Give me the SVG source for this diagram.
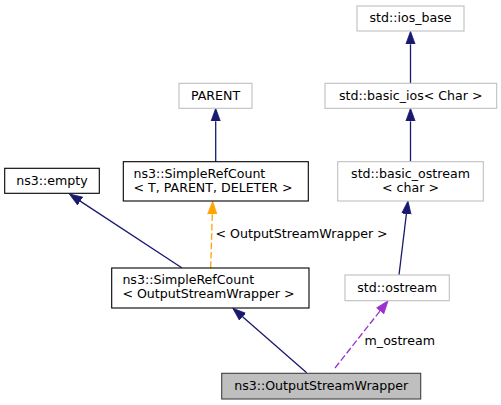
<svg xmlns="http://www.w3.org/2000/svg" width="501" height="405" viewBox="0 0 501 405">
<style>
text{font-family:"DejaVu Sans","Liberation Sans",sans-serif;font-size:12.6px;fill:#000}
.c{text-anchor:middle}
.doc{fill:#fff;stroke:#000;stroke-width:1.1}
.und{fill:#fff;stroke:#bfbfbf;stroke-width:1.1}
.cur{fill:#bfbfbf;stroke:#404040;stroke-width:1.1}
.e{fill:none;stroke:#191970;stroke-width:1.3}
.o{fill:none;stroke:#ffa500;stroke-width:1.3;stroke-dasharray:6.7,2.7}
.p{fill:none;stroke:#9a32cd;stroke-width:1.3;stroke-dasharray:6.7,2.7}
</style>
<defs>
<marker id="ab" markerUnits="userSpaceOnUse" markerWidth="14" markerHeight="12" refX="0" refY="5" orient="auto" viewBox="0 0 14 10"><path d="M0,0.3 L13,5 L0,9.7 Z" fill="#191970" stroke="#191970" stroke-width="0.8"/></marker>
<marker id="ao" markerUnits="userSpaceOnUse" markerWidth="14" markerHeight="12" refX="0" refY="5" orient="auto" viewBox="0 0 14 10"><path d="M0,0.3 L13,5 L0,9.7 Z" fill="#ffa500" stroke="#ffa500" stroke-width="0.8"/></marker>
<marker id="ap" markerUnits="userSpaceOnUse" markerWidth="14" markerHeight="12" refX="0" refY="5" orient="auto" viewBox="0 0 14 10"><path d="M0,0.3 L13,5 L0,9.7 Z" fill="#9a32cd" stroke="#9a32cd" stroke-width="0.8"/></marker>
</defs>
<g id="connectors">
<path class="e" d="M410.5,83 L410.5,44.3" marker-end="url(#ab)"/>
<path class="e" d="M410.5,161.7 L410.5,121.3" marker-end="url(#ab)"/>
<path class="e" d="M215.7,161.7 L215.7,121.3" marker-end="url(#ab)"/>
<path class="e" d="M181.7,267.7 L80.2,201.1" marker-end="url(#ab)"/>
<path class="o" d="M210.7,268 L212.3,214.3" marker-end="url(#ao)"/>
<text x="215.5" y="237.5">&lt; OutputStreamWrapper &gt;</text>
<path class="e" d="M399,275 L406.4,213.9" marker-end="url(#ab)"/>
<path class="e" d="M306.7,372.7 L242.6,316.8" marker-end="url(#ab)"/>
<path class="p" d="M335,368 L380,311" marker-end="url(#ap)"/>
<text x="364.6" y="345">m_ostream</text>
</g>
<g id="node-ios_base">
<rect class="und" x="357" y="6" width="107" height="25"/>
<text class="c" x="410.5" y="22.3">std::ios_base</text>
</g>
<g id="node-basic_ios">
<rect class="und" x="325" y="83.3" width="171.7" height="25"/>
<text class="c" x="410.8" y="99.6">std::basic_ios&lt; Char &gt;</text>
</g>
<g id="node-parent">
<rect class="und" x="179" y="83.3" width="73" height="25"/>
<text class="c" x="215.5" y="99.6">PARENT</text>
</g>
<g id="node-empty">
<rect class="doc" x="4.7" y="168.3" width="94.6" height="25"/>
<text class="c" x="52" y="184.6">ns3::empty</text>
</g>
<g id="node-simplerefcount-t">
<rect class="doc" x="123.3" y="161.7" width="185" height="39.3"/>
<text x="133.5" y="177.5">ns3::SimpleRefCount</text>
<text x="133.5" y="191.7">&lt; T, PARENT, DELETER &gt;</text>
</g>
<g id="node-basic_ostream">
<rect class="und" x="337.7" y="161.7" width="145.6" height="39.3"/>
<text class="c" x="410.5" y="177.5">std::basic_ostream</text>
<text class="c" x="410.5" y="191.7">&lt; char &gt;</text>
</g>
<g id="node-simplerefcount-osw">
<rect class="doc" x="111.7" y="268" width="197.3" height="40"/>
<text x="122.4" y="284">ns3::SimpleRefCount</text>
<text x="122.4" y="298.3">&lt; OutputStreamWrapper &gt;</text>
</g>
<g id="node-ostream">
<rect class="und" x="345" y="275" width="104.3" height="25.7"/>
<text class="c" x="397.2" y="291.6">std::ostream</text>
</g>
<g id="node-outputstreamwrapper">
<rect class="cur" x="221.7" y="373.3" width="199" height="25.7"/>
<text class="c" x="321.2" y="389.8">ns3::OutputStreamWrapper</text>
</g>
</svg>
